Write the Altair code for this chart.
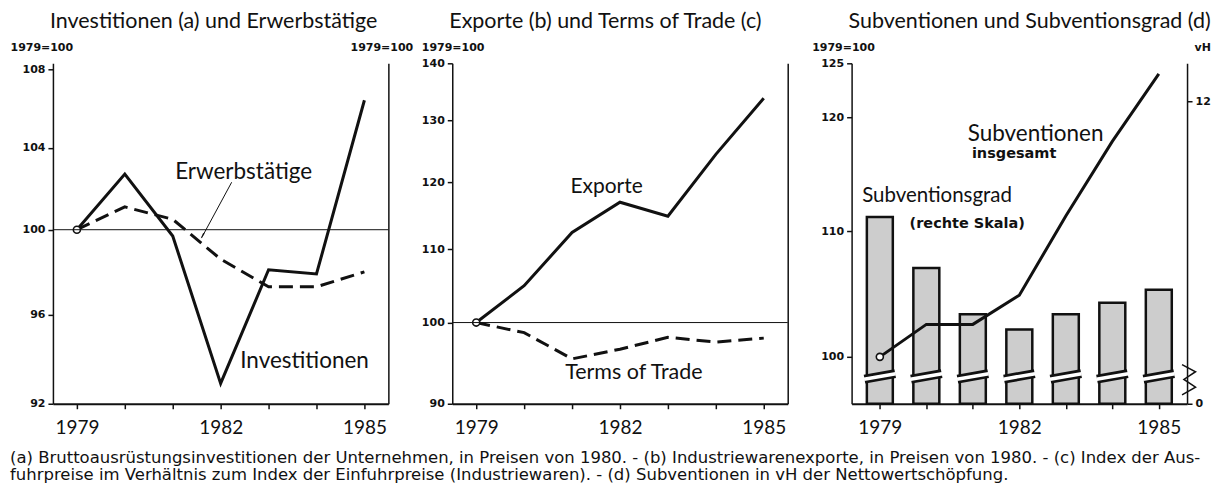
import altair as alt
import pandas as pd

# ---------------- data ----------------
years = [1979, 1980, 1981, 1982, 1983, 1984, 1985]
investitionen = [100, 102.7, 99.7, 92.9, 98.1, 97.9, 106.4]
erwerbstaetige = [100, 101.1, 100.5, 98.6, 97.3, 97.3, 98.0]
exporte = [100, 104.9, 112.4, 116.9, 114.8, 124.4, 133.8]
terms_of_trade = [100, 98.7, 95.4, 96.6, 98.1, 97.5, 98.0]
subventionen = [100, 102.5, 102.5, 104.8, 111.3, 117.8, 124.0]
subventionsgrad = [11.1, 10.7, 10.34, 10.22, 10.34, 10.43, 10.53]

ticks_p1 = [92, 96, 100, 104, 108]
ticks_p2 = [90, 100, 110, 120, 130, 140]
ticks_p3_left = [100, 110, 120, 125]
ticks_p3_right = [9.64, 10, 11, 12]
x_labels = [1979, 1982, 1985]

titles = [
    "Investitionen (a) und Erwerbstätige",
    "Exporte (b) und Terms of Trade (c)",
    "Subventionen und Subventionsgrad (d)",
]
footnote = [
    "(a) Bruttoausrüstungsinvestitionen der Unternehmen, in Preisen von 1980. - (b) Industriewarenexporte, in Preisen von 1980. - (c) Index der Aus-",
    "fuhrpreise im Verhältnis zum Index der Einfuhrpreise (Industriewaren). - (d) Subventionen in vH der Nettowertschöpfung.",
]

FONT = "Lato"
NUMFONT = "DejaVu Sans"
W, H = 336, 341
BLACK = "#111111"

df = pd.DataFrame({
    "year": years,
    "inv": investitionen,
    "erw": erwerbstaetige,
    "exp": exporte,
    "tot": terms_of_trade,
    "sub": subventionen,
    "grad": subventionsgrad,
})

xscale = alt.Scale(domain=[1978.5, 1985.5], nice=False, zero=False)
xaxis = alt.Axis(
    values=years, format="d", title=None, grid=False,
    labelExpr="indexof(%s, datum.value) >= 0 ? datum.label : ''" % str(x_labels),
    labelFontSize=19, labelFont=FONT, labelColor=BLACK, labelPadding=10,
    labelOverlap=False, labelFlush=False,
    tickSize=5, tickWidth=1.5, tickColor=BLACK,
    domainWidth=2, domainColor=BLACK,
)


def X():
    return alt.X("year:Q", scale=xscale, axis=xaxis)


def yaxis(values, orient="left", title=None, tx=0, talign="left", labels=True, expr=None):
    kw = dict(
        values=values, orient=orient, grid=False, format="d",
        labelFontSize=11, labelFontWeight="bold", labelFont=NUMFONT, labelColor=BLACK,
        labelPadding=3, labelOverlap=False, labelFlush=False,
        tickSize=5 if labels else 0, tickWidth=1.5, tickColor=BLACK,
        domainWidth=1.5, domainColor=BLACK, labels=labels, ticks=labels,
    )
    if expr:
        kw["labelExpr"] = expr
    if title:
        kw.update(title=title, titleAngle=0, titleAlign=talign, titleBaseline="middle",
                  titleX=tx, titleY=-16, titleFontSize=11, titleFontWeight="bold",
                  titleFont=NUMFONT, titleColor=BLACK)
    else:
        kw["title"] = None
    return alt.Axis(**kw)


one = alt.Data(values=[{}])


def label(text, x, y, size=22, weight="normal", align="center", font=FONT):
    return alt.Chart(one).mark_text(
        text=text, font=font, fontSize=size, fontWeight=weight, align=align,
        baseline="middle", color=BLACK,
    ).encode(x=alt.datum(x), y=alt.datum(y))


def start_circle(field):
    return alt.Chart(df).transform_filter("datum.year == 1979").mark_point(
        shape="circle", filled=True, fill="white", stroke=BLACK, strokeWidth=1.6,
        size=50, opacity=1,
    ).encode(x="year:Q", y=f"{field}:Q")


def ptitle(t):
    return alt.TitleParams(t, anchor="start", fontSize=21.5, fontWeight="normal",
                           font=FONT, color=BLACK, offset=9, dx=-3, frame="group")


base = alt.Chart(df)

# ---------------- panel 1 ----------------
ys1 = alt.Scale(type="log", domain=[92, 108.3], nice=False, zero=False)
p1_main = alt.layer(
    base.mark_line(color=BLACK, strokeWidth=3, strokeDash=[14, 7]).encode(
        x=X(), y=alt.Y("erw:Q", scale=ys1,
                       axis=yaxis(ticks_p1, title="1979=100", tx=-43))),
    base.mark_line(color=BLACK, strokeWidth=3).encode(x="year:Q", y="inv:Q"),
    start_circle("inv"),
    alt.Chart(one).mark_rule(color=BLACK, strokeWidth=1).encode(
        x=alt.datum(1982.23), y=alt.datum(102.3), x2=alt.datum(1981.6), y2=alt.datum(99.6)),
    alt.Chart(one).mark_point(shape="wedge", filled=True, color=BLACK, size=45, angle=212,
                              opacity=1).encode(x=alt.datum(1981.63), y=alt.datum(99.75)),
    label("Erwerbstätige", 1982.48, 102.8, size=22.5),
    label("Investitionen", 1983.75, 93.9, size=22.5),
)
p1_right = alt.Chart(one).mark_rule(color=BLACK, strokeWidth=1).encode(
    y=alt.YDatum(100, scale=ys1,
                 axis=yaxis([], orient="right", title="1979=100", tx=-7,
                            talign="center", labels=False)))
p1 = alt.layer(p1_main, p1_right).resolve_scale(y="independent").properties(
    width=W, height=H, title=ptitle(titles[0]))

# ---------------- panel 2 ----------------
ys2 = alt.Scale(type="log", domain=[90, 140], nice=False, zero=False)
p2_main = alt.layer(
    base.mark_line(color=BLACK, strokeWidth=3).encode(
        x=X(), y=alt.Y("exp:Q", scale=ys2,
                       axis=yaxis(ticks_p2, title="1979=100", tx=-31))),
    base.mark_line(color=BLACK, strokeWidth=3, strokeDash=[14, 7]).encode(
        x="year:Q", y="tot:Q"),
    start_circle("exp"),
    label("Exporte", 1981.72, 119.2, size=21),
    label("Terms of Trade", 1982.29, 93.7, size=21.5),
)
p2_right = alt.Chart(one).mark_rule(color=BLACK, strokeWidth=1).encode(
    y=alt.YDatum(100, scale=ys2, axis=yaxis([], orient="right", labels=False)))
p2 = alt.layer(p2_main, p2_right).resolve_scale(y="independent").properties(
    width=W, height=H, title=ptitle(titles[1]))

# ---------------- panel 3 ----------------
ys3 = alt.Scale(type="log", domain=[96.5, 125], nice=False, zero=False)
ys3r = alt.Scale(domain=[9.64, 12.3], nice=False, zero=False)
bars = alt.layer(
    base.mark_bar(size=26, fill="#cdcdcd", stroke=BLACK, strokeWidth=2.5).encode(
        x=X(),
        y=alt.Y("grad:Q", scale=ys3r,
                axis=yaxis(ticks_p3_right, orient="right", title="vH", tx=7,
                           expr="datum.value < 9.9 ? '0' : datum.label")),
        y2=alt.Y2Datum(9.64)),
    base.transform_calculate(a="datum.year - 0.33", b="datum.year + 0.33").mark_rule(
        color=BLACK, strokeWidth=9, strokeCap="butt").encode(
        x="a:Q", x2="b:Q", y=alt.datum(9.832), y2=alt.datum(9.875)),
    base.transform_calculate(a="datum.year - 0.34", b="datum.year + 0.34").mark_rule(
        color="white", strokeWidth=3.5, strokeCap="butt").encode(
        x="a:Q", x2="b:Q", y=alt.datum(9.832), y2=alt.datum(9.875)),
    alt.Chart(one).mark_rule(color="white", strokeWidth=4).encode(
        x=alt.datum(1985.5), y=alt.datum(9.71), y2=alt.datum(9.945)),
    alt.Chart(alt.Data(values=[
        {"zx": 1985.5, "zy": 9.945, "o": 0},
        {"zx": 1985.79, "zy": 9.89, "o": 1},
        {"zx": 1985.54, "zy": 9.83, "o": 2},
        {"zx": 1985.79, "zy": 9.77, "o": 3},
        {"zx": 1985.5, "zy": 9.71, "o": 4},
    ])).mark_line(color=BLACK, strokeWidth=1.5).encode(
        x="zx:Q", y="zy:Q", order="o:Q"),
)
lines3 = alt.layer(
    base.mark_line(color=BLACK, strokeWidth=3).encode(
        x="year:Q",
        y=alt.Y("sub:Q", scale=ys3,
                axis=yaxis(ticks_p3_left, title="1979=100", tx=-40))),
    start_circle("sub"),
    label("Subventionen", 1982.35, 118.5, size=22.5),
    label("insgesamt", 1980.98, 116.7, size=14.5, weight="bold", align="left", font=NUMFONT),
    label("Subventionsgrad", 1980.23, 113.0, size=20.5),
    label("(rechte Skala)", 1980.88, 110.6, size=14.5, weight="bold", font=NUMFONT),
)
p3 = alt.layer(bars, lines3).resolve_scale(y="independent").properties(
    width=W, height=H, title=ptitle(titles[2]))

chart = alt.hconcat(p1, p2, p3, spacing=64, bounds="flush").properties(
    title=alt.TitleParams(footnote, orient="bottom", anchor="start", fontSize=16.5,
                          fontWeight="normal", font=NUMFONT, color=BLACK, offset=12,
                          lineHeight=17, frame="bounds"),
    padding={"left": 2, "top": 2, "right": 2, "bottom": 2},
).configure_view(stroke=None)

chart.save("out.html", embed_options={"renderer": "svg", "actions": False})
